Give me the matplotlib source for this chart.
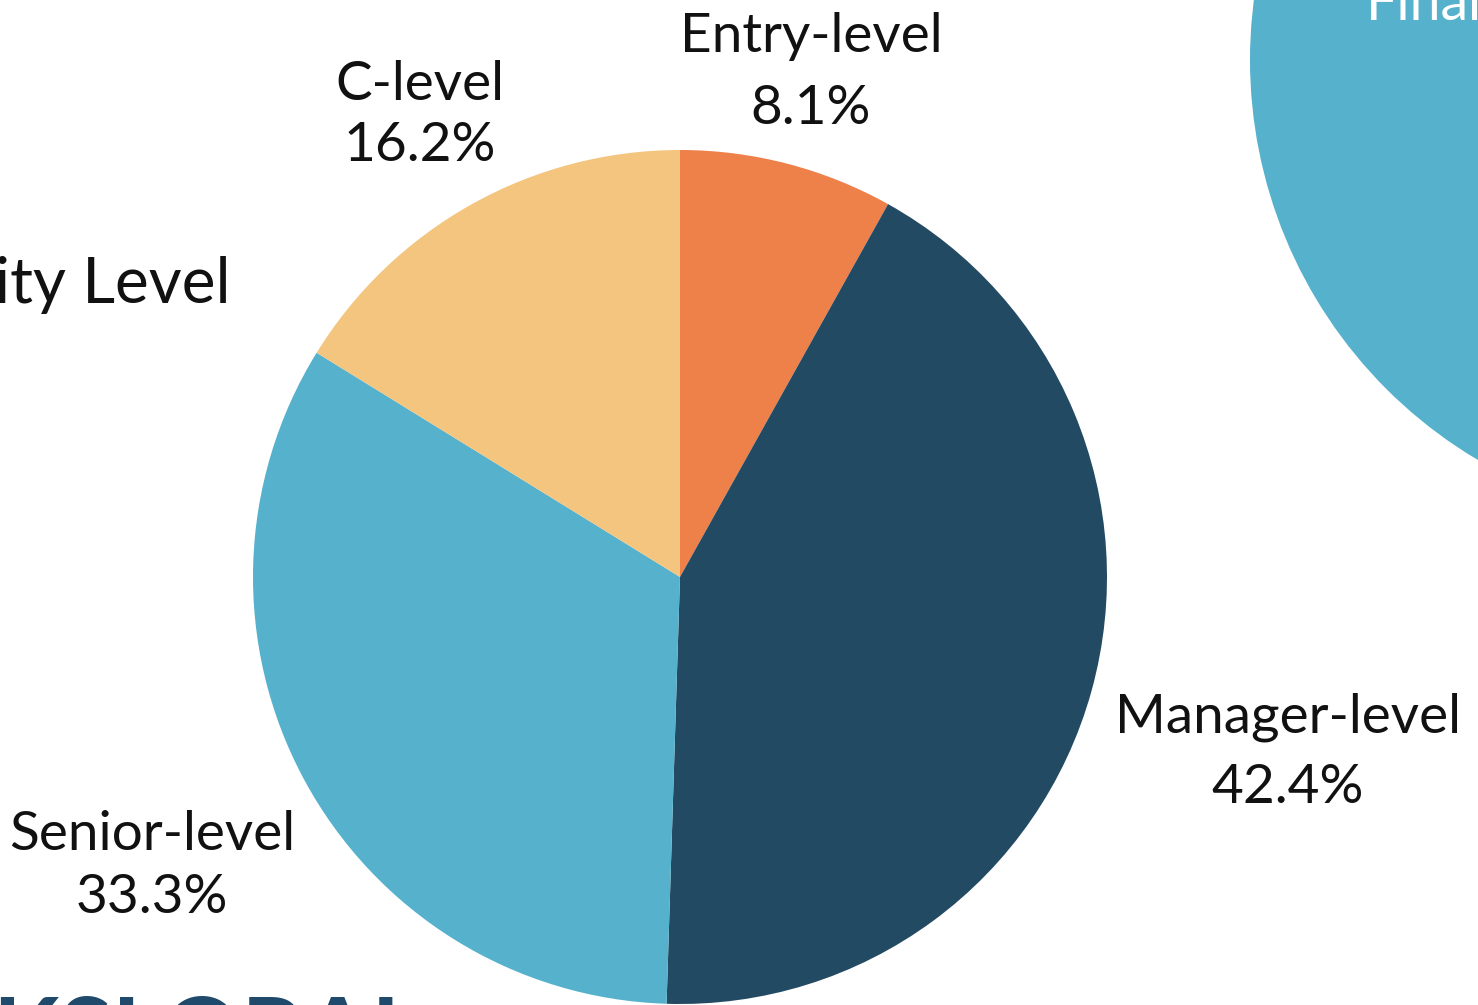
import matplotlib
matplotlib.use("Agg")
import matplotlib.pyplot as plt
from matplotlib.patches import Circle

plt.rcParams['font.family'] = ['Lato', 'DejaVu Sans']

# Respondent seniority breakdown (percent of respondents)
levels = ["Entry-level", "Manager-level", "Senior-level", "C-level"]
shares = [8.1, 42.4, 33.3, 16.2]
colors = ["#EE804A", "#224A63", "#56B1CC", "#F4C57E"]

W, H = 1478, 1005
fig = plt.figure(figsize=(W / 100, H / 100), dpi=100)
ax = fig.add_axes([0, 0, 1, 1])


def py(y):
    """Convert a top-down pixel row into the axes' bottom-up y."""
    return H - y


# Neighbouring panel: teal disc with its white heading
ax.add_patch(Circle((1715, py(60)), 465, color="#56B1CC", lw=0, zorder=0))
ax.text(1366, py(20), "Finance", color="white", fontsize=40,
        ha='left', va='baseline', zorder=1)

# Section heading (runs in from the left)
ax.text(231, py(303), "Seniority Level", color="#111111", fontsize=46,
        ha='right', va='baseline')

# Page footer heading, only its top visible
ax.text(-8, py(994), "KSLORAL", color="#1F4A6B", fontsize=70,
        fontweight='bold', ha='left', va='top')

cx, cy, r = 680, py(577), 427
ax.pie(shares, colors=colors, startangle=90, counterclock=False,
       center=(cx, cy), radius=r, frame=True,
       wedgeprops=dict(linewidth=0))
ax.set_xlim(0, W)
ax.set_ylim(0, H)
ax.set_aspect('equal')
ax.axis('off')

# Label anchors: (centre x, baseline of first line, baseline of second line)
label_pos = {
    "Entry-level": (811, 52, 124),
    "Manager-level": (1288, 733, 803),
    "Senior-level": (152, 850, 913),
    "C-level": (420, 100, 161),
}
for name, val in zip(levels, shares):
    x, y1, y2 = label_pos[name]
    ax.text(x, py(y1), name, fontsize=39.5, color="#111111",
            ha='center', va='baseline')
    ax.text(x, py(y2), f"{val}%", fontsize=39.5, color="#111111",
            ha='center', va='baseline')

fig.savefig("out.png", dpi=100)
